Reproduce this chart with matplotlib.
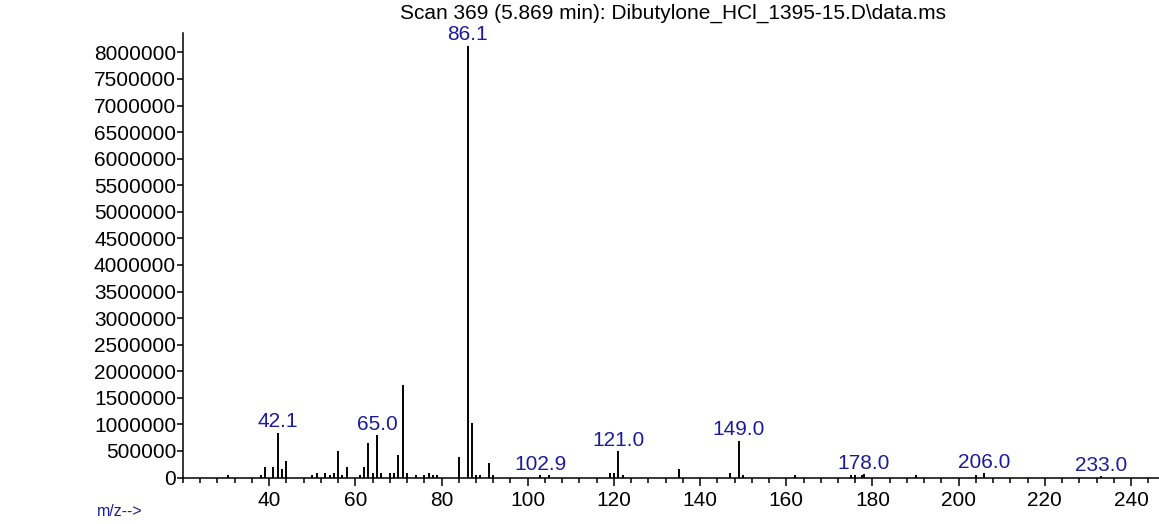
import matplotlib
matplotlib.use("Agg")
import matplotlib.pyplot as plt
from matplotlib.ticker import MultipleLocator, FuncFormatter

plt.rcParams['font.family'] = ['Liberation Sans', 'DejaVu Sans']

# m/z values and abundances
mz = [30.4, 38, 39, 41, 42.1, 43, 44, 50, 51, 53, 54, 55, 56, 57, 58, 61, 62, 63, 64,
      65.0, 66, 68, 69, 70, 71, 72, 74, 76, 77, 78, 79, 84, 86.1, 87, 88, 89, 91, 92,
      102.9, 105, 119, 120, 121.0, 122, 135, 147, 149.0, 150, 162, 175, 176, 177.5,
      178.0, 190, 204, 206.0, 233.0]
abundance = [50000, 50000, 200000, 200000, 840000, 160000, 310000, 50000, 90000, 90000,
             50000, 80000, 500000, 50000, 200000, 50000, 200000, 650000, 90000,
             800000, 90000, 90000, 90000, 430000, 1750000, 90000, 50000, 50000, 90000,
             50000, 50000, 390000, 8130000, 1030000, 50000, 50000, 270000, 50000,
             40000, 40000, 80000, 80000, 500000, 40000, 160000, 80000, 690000, 40000,
             40000, 40000, 40000, 40000, 60000, 40000, 40000, 80000, 20000]
labelled = [42.1, 65.0, 86.1, 102.9, 121.0, 149.0, 178.0, 206.0, 233.0]
title = "Scan 369 (5.869 min): Dibutylone_HCl_1395-15.D\\data.ms"

W, H = 1159, 524
fig = plt.figure(figsize=(W / 100, H / 100), dpi=100)
ax = fig.add_axes([183 / W, (H - 477.5) / H, 1 - 183 / W, (477.5 - 33.3) / H])

ax.vlines(mz, 0, abundance, color='black', linewidth=1.4)
ax.set_xlim(20, 246.5)
ax.set_ylim(0, 8.36e6)

for s in ['top', 'right']:
    ax.spines[s].set_visible(False)
for s in ['left', 'bottom']:
    ax.spines[s].set_linewidth(1.1)

ax.xaxis.set_major_locator(MultipleLocator(20))
ax.xaxis.set_minor_locator(MultipleLocator(4))
ax.yaxis.set_major_locator(MultipleLocator(500000))
ax.yaxis.set_major_formatter(FuncFormatter(lambda v, p: f"{int(round(v))}"))
ax.tick_params(axis='x', which='major', length=6, width=1.1, labelsize=15, pad=4)
ax.tick_params(axis='x', which='minor', length=3.5, width=1.1)
ax.tick_params(axis='y', which='major', length=4, width=1.1, labelsize=15, pad=1)
xt = [t for t in range(40, 241, 20)]
ax.set_xticks(xt)

navy = '#1c1c9a'
for m, a in zip(mz, abundance):
    if m in labelled:
        ax.annotate(f"{m:.1f}", xy=(m, a), xytext=(0, 1), textcoords='offset points',
                    ha='center', va='bottom', color=navy, fontsize=15, clip_on=False)

fig.text(673 / W, 1 - 13 / H, title, ha='center', va='center', fontsize=15, color='black')
fig.text(97 / W, 1 - 512 / H, "m/z-->", ha='left', va='center', fontsize=11.5, color=navy)

fig.savefig('out.png', dpi=100)
